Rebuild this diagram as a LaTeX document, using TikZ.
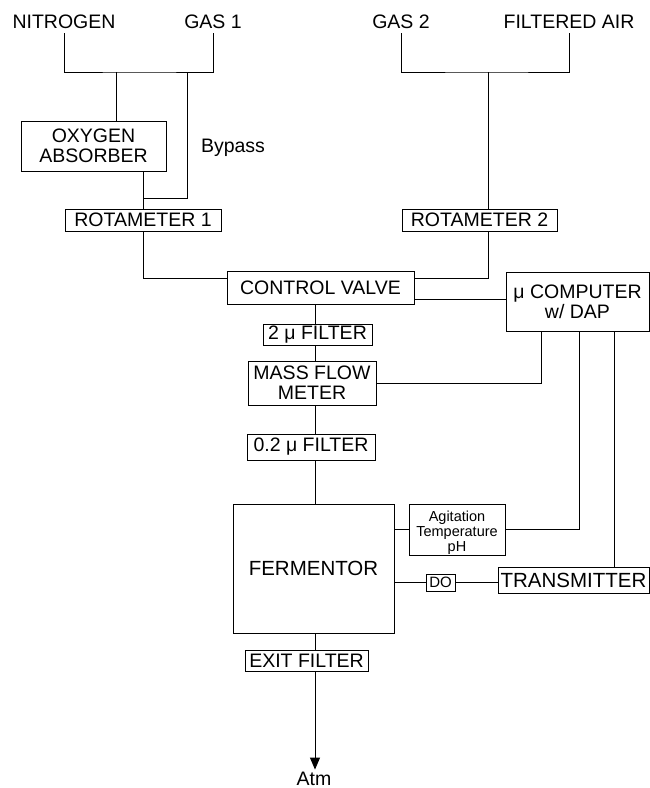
\documentclass[tikz,border=0pt]{standalone}
\usepackage{fontspec}
\setmainfont{Liberation Sans}
\usetikzlibrary{arrows.meta}
\newcommand\fA{\fontsize{19.5}{20}\selectfont}
\newcommand\fB{\fontsize{20.5}{20}\selectfont}
\newcommand\fS{\fontsize{14.5}{15}\selectfont}
\newcommand\fD{\fontsize{15}{15}\selectfont}
\begin{document}
\begin{tikzpicture}[x=1pt,y=-1pt,line width=0.9pt,
  box/.style={draw,inner sep=0pt,align=center,font=\fA},
  lbl/.style={inner sep=0pt,outer ysep=5pt,font=\fA,anchor=base}]
\useasboundingbox (0,0) rectangle (650,788);
% labels
\node[lbl] (nit) at (64,28) {NITROGEN};
\node[lbl] (g1) at (213,28) {GAS 1};
\node[lbl] (g2) at (401,28) {GAS 2};
\node[lbl] (air) at (569,28) {FILTERED AIR};
\node[lbl,outer ysep=0pt] (byp) at (233,152) {Bypass};
\node[lbl,outer ysep=2pt] (atm) at (314,785) {Atm};
% boxes
\node[box,minimum width=145pt,minimum height=50pt] (abs) at (93.5,146) {OXYGEN\\ABSORBER};
\node[box,minimum width=156pt,minimum height=22pt] (rot1) at (143,220) {ROTAMETER 1};
\node[box,minimum width=155pt,minimum height=22pt] (rot2) at (479.5,220) {ROTAMETER 2};
\node[box,minimum width=187pt,minimum height=33pt] (cv) at (320.5,287.5) {CONTROL VALVE};
\node[box,minimum width=143pt,minimum height=59pt] (comp) at (577.5,301.5) {μ COMPUTER\\w/ DAP};
\node[box,minimum width=109pt,minimum height=21pt] (f2) at (317.5,334.5) {2 μ FILTER};
\node[box,minimum width=128pt,minimum height=44pt] (mfm) at (312,383) {MASS FLOW\\METER};
\node[box,minimum width=128pt,minimum height=26pt] (f02) at (311,447) {0.2 μ FILTER};
\node[box,font=\fB,minimum width=161pt,minimum height=129pt] (ferm) at (313.5,568.5) {FERMENTOR};
\node[box,minimum width=96pt,minimum height=51pt] (agit) at (457,529.5) {};
\node[font=\fS,align=center,inner sep=0pt,anchor=north] (agittxt) at (457,511) {Agitation\\Temperature\\pH};
\node[box,font=\fD,minimum width=29pt,minimum height=17pt] (do) at (440.5,582.5) {DO};
\node[box,font=\fB,minimum width=151pt,minimum height=26pt] (trans) at (573.5,580) {TRANSMITTER};
\node[box,minimum width=123pt,minimum height=21pt] (exit) at (306.5,660.5) {EXIT FILTER};
% helper coordinates
\coordinate (h1) at (140,72);
\coordinate (h2) at (488,72);
\coordinate (a1) at (116,72);
\coordinate (b1) at (187,72);
\coordinate (b2) at (143,198);
\coordinate (m1) at (143,278);
\coordinate (m2) at (488,278);
\coordinate (c1) at (0,299);
\coordinate (t) at (315,0);
\coordinate (k1) at (541,0);
\coordinate (k2) at (579,0);
\coordinate (k3) at (614,0);
% connectors
\draw (nit.south) |- (h1) -| (g1.south);
\draw (g2.south) |- (h2) -| (air.south);
\draw (h2) -- (rot2.north -| h2);
\draw (a1) -- (a1 |- abs.north);
\draw (b1) |- (b2);
\draw (abs.south -| rot1.north) -- (rot1.north);
\draw (rot1.south) |- (cv.west |- m1);
\draw (rot2.south -| m2) |- (cv.east |- m2);
\draw (cv.east |- c1) -- (comp.west |- c1);
\draw (cv.south -| t) -- (f2.north -| t);
\draw (f2.south -| t) -- (mfm.north -| t);
\draw (mfm.south -| t) -- (f02.north -| t);
\draw (f02.south -| t) -- (ferm.north -| t);
\draw (ferm.south -| t) -- (exit.north -| t);
\draw[-{Triangle[width=10pt,length=12pt]}] (exit.south -| t) -- (atm.north -| t);
\draw (mfm.east) -| (comp.south -| k1);
\draw (comp.south -| k2) |- (agit.east);
\draw (comp.south -| k3) -- (trans.north -| k3);
\draw (ferm.east |- agit.west) -- (agit.west);
\draw (ferm.east |- do.west) -- (do.west);
\draw (do.east) -- (trans.west |- do.east);
\end{tikzpicture}
\end{document}
